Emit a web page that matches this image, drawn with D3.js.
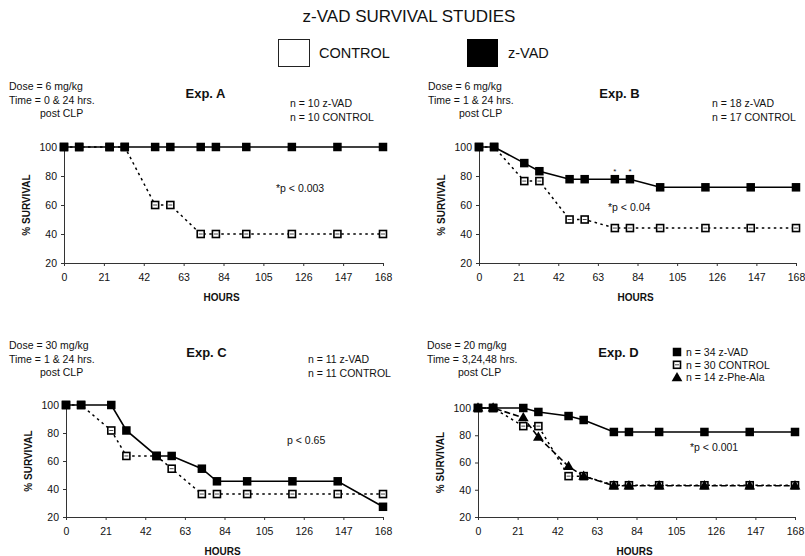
<!DOCTYPE html>
<html>
<head>
<meta charset="utf-8">
<script src="https://cdn.jsdelivr.net/npm/d3@7"></script>
<style>
  body { margin: 0; background: #fff; }
  svg text { font-family: "Liberation Sans", Arial, sans-serif; fill: #111; }
</style>
</head>
<body>
<div id="screen"></div>
<script>
// time points (hours post CLP)
var hours = [0, 8, 24, 32, 48, 56, 72, 80, 96, 120, 144, 168];
var xTickValues = [0, 21, 42, 63, 84, 105, 126, 147, 168];
var yTickValues = [20, 40, 60, 80, 100];

// % survival
var expAZvad    = [100, 100, 100, 100, 100, 100, 100, 100, 100, 100, 100, 100];
var expAControl = [100, 100, 100, 100, 60, 60, 40, 40, 40, 40, 40, 40];
var expBZvad    = [100, 100, 88.9, 83.3, 77.8, 77.8, 77.8, 77.8, 72.2, 72.2, 72.2, 72.2];
var expBControl = [100, 100, 76.5, 76.5, 50, 50, 44.1, 44.1, 44.1, 44.1, 44.1, 44.1];
var expCZvad    = [100, 100, 100, 81.8, 63.6, 63.6, 54.5, 45.5, 45.5, 45.5, 45.5, 27.3];
var expCControl = [100, 100, 81.8, 63.6, 63.6, 54.5, 36.4, 36.4, 36.4, 36.4, 36.4, 36.4];
var expDZvad    = [100, 100, 100, 97.1, 94.1, 91.2, 82.4, 82.4, 82.4, 82.4, 82.4, 82.4];
var expDControl = [100, 100, 86.7, 86.7, 50, 50, 43.3, 43.3, 43.3, 43.3, 43.3, 43.3];
var expDPheAla  = [100, 100, 92.9, 78.6, 57.1, 50, 42.9, 42.9, 42.9, 42.9, 42.9, 42.9];

var chartTitle = "z-VAD SURVIVAL STUDIES";
var legendLabels = ["CONTROL", "z-VAD"];
var panelTitles = ["Exp. A", "Exp. B", "Exp. C", "Exp. D"];
var doseLines = ["Dose = 6 mg/kg", "Dose = 6 mg/kg", "Dose = 30 mg/kg", "Dose = 20 mg/kg"];
var timeLines = ["Time = 0 & 24 hrs.", "Time = 1 & 24 hrs.", "Time = 1 & 24 hrs.", "Time = 3,24,48 hrs."];
var nZvad = ["n = 10 z-VAD", "n = 18 z-VAD", "n = 11 z-VAD", "n = 34 z-VAD"];
var nControl = ["n = 10 CONTROL", "n = 17 CONTROL", "n = 11 CONTROL", "n = 30 CONTROL"];
var nPheAla = "n = 14 z-Phe-Ala";
var pLabels = ["*p < 0.003", "*p < 0.04", "p < 0.65", "*p < 0.001"];
var starHours = [72, 80]; // asterisks above z-VAD points in Exp. B

var width = 805, height = 556;
var svg = d3.select("#screen").append("svg").attr("width", width).attr("height", height);

// header
svg.append("text").attr("x", 409).attr("y", 22).attr("text-anchor", "middle")
    .style("font-size", "17px").text(chartTitle);
svg.append("rect").attr("x", 278.5).attr("y", 39.5).attr("width", 31).attr("height", 27)
    .attr("fill", "#fff").attr("stroke", "#222").attr("stroke-width", 1);
svg.append("text").attr("x", 319).attr("y", 58).style("font-size", "14.5px").text(legendLabels[0]);
svg.append("rect").attr("x", 467).attr("y", 39).attr("width", 31).attr("height", 28).attr("fill", "#000");
svg.append("text").attr("x", 508).attr("y", 58).style("font-size", "14.5px").text(legendLabels[1]);

var panels = [
    {x0: 64, x1: 383, top: 147, bot: 263, tx: 9, ty: 90, nx: 290, ny: 107, px: 276, py: 192,
     series: [{v: expAControl, kind: "control"}, {v: expAZvad, kind: "zvad"}]},
    {x0: 479, x1: 796, top: 147, bot: 263, tx: 428, ty: 90, nx: 712, ny: 107, px: 608, py: 211,
     series: [{v: expBControl, kind: "control"}, {v: expBZvad, kind: "zvad"}]},
    {x0: 66, x1: 383, top: 405, bot: 517, tx: 9, ty: 349, nx: 308, ny: 363, px: 287, py: 444,
     series: [{v: expCControl, kind: "control"}, {v: expCZvad, kind: "zvad"}]},
    {x0: 478, x1: 795, top: 408, bot: 517, tx: 427, ty: 349, nx: null, ny: null, px: 690, py: 451,
     series: [{v: expDControl, kind: "control"}, {v: expDPheAla, kind: "phe"}, {v: expDZvad, kind: "zvad"}]}
];

var styles = {
    zvad: {dash: null, width: 1.6},
    control: {dash: "2.5,3.5", width: 1.5},
    phe: {dash: "6,3", width: 1.6}
};

function drawMarker(g, kind, x, y) {
    if (kind === "zvad") {
        g.append("rect").attr("x", x - 4.25).attr("y", y - 4.25).attr("width", 8.5).attr("height", 8.5).attr("fill", "#000");
    } else if (kind === "control") {
        g.append("rect").attr("x", x - 3.5).attr("y", y - 3.5).attr("width", 7).attr("height", 7)
            .attr("fill", "#fff").attr("stroke", "#000").attr("stroke-width", 1.6);
        g.append("line").attr("x1", x - 2).attr("x2", x + 2).attr("y1", y).attr("y2", y)
            .attr("stroke", "#444").attr("stroke-width", 1);
    } else {
        g.append("path").attr("d", d3.symbol(d3.symbolTriangle, 50)())
            .attr("transform", "translate(" + x + "," + (y + 0.5) + ")").attr("fill", "#000");
    }
}

panels.forEach(function(p, i) {
    var g = svg.append("g");
    var x = d3.scaleLinear().domain([0, 168]).range([p.x0, p.x1]);
    var y = d3.scaleLinear().domain([20, 100]).range([p.bot, p.top]);

    // annotation text
    g.append("text").attr("x", p.tx).attr("y", p.ty).style("font-size", "10.5px").text(doseLines[i]);
    g.append("text").attr("x", p.tx).attr("y", p.ty + 13.5).style("font-size", "10.5px").text(timeLines[i]);
    g.append("text").attr("x", p.tx + 31).attr("y", p.ty + 27).style("font-size", "10.5px").text("post CLP");
    g.append("text").attr("x", (p.x0 + p.x1) / 2 - 18).attr("y", p.ty + 8)
        .attr("text-anchor", "middle").style("font-size", "13px").style("font-weight", "bold").text(panelTitles[i]);
    if (p.nx !== null) {
        g.append("text").attr("x", p.nx).attr("y", p.ny).style("font-size", "10.5px").text(nZvad[i]);
        g.append("text").attr("x", p.nx).attr("y", p.ny + 14).style("font-size", "10.5px").text(nControl[i]);
    }
    g.append("text").attr("x", p.px).attr("y", p.py).style("font-size", "10.5px").text(pLabels[i]);

    // axes
    var yAxis = g.append("g").attr("transform", "translate(" + p.x0 + ",0)")
        .call(d3.axisLeft(y).tickValues(yTickValues).tickSize(3).tickSizeOuter(0).tickPadding(4));
    var xAxis = g.append("g").attr("transform", "translate(0," + p.bot + ")")
        .call(d3.axisBottom(x).tickValues(xTickValues).tickSize(3).tickSizeOuter(0).tickPadding(8));
    [yAxis, xAxis].forEach(function(a) {
        a.select(".domain").attr("stroke", "#333");
        a.selectAll(".tick line").attr("stroke", "#333");
        a.selectAll(".tick text").style("font-size", "10.5px").attr("fill", "#111")
            .style("font-family", "'Liberation Sans', Arial, sans-serif");
    });

    g.append("text").attr("transform", "translate(" + (p.x0 - 34) + "," + ((p.top + p.bot) / 2) + ") rotate(-90)")
        .attr("text-anchor", "middle").style("font-size", "10px").style("font-weight", "bold").text("% SURVIVAL");
    g.append("text").attr("x", (p.x0 + p.x1) / 2 - 2).attr("y", p.bot + 38)
        .attr("text-anchor", "middle").style("font-size", "10px").style("font-weight", "bold").text("HOURS");

    // lines then markers
    var line = d3.line().x(function(d, j) { return x(hours[j]); }).y(function(d) { return y(d); });
    p.series.forEach(function(s) {
        g.append("path").datum(s.v).attr("d", line).attr("fill", "none")
            .attr("stroke", "#000").attr("stroke-width", styles[s.kind].width)
            .attr("stroke-dasharray", styles[s.kind].dash);
    });
    p.series.forEach(function(s) {
        s.v.forEach(function(d, j) { drawMarker(g, s.kind, x(hours[j]), y(d)); });
    });

    if (i === 1) {
        starHours.forEach(function(h) {
            var j = hours.indexOf(h);
            g.append("text").attr("x", x(h)).attr("y", y(expBZvad[j]) - 5).attr("text-anchor", "middle")
                .style("font-size", "8px").text("*");
        });
    }
    if (i === 3) {
        var lg = [{kind: "zvad", t: nZvad[3]}, {kind: "control", t: nControl[3]}, {kind: "phe", t: nPheAla}];
        lg.forEach(function(l, k) {
            var ly = 352 + k * 12.8;
            drawMarker(g, l.kind, 677, ly);
            g.append("text").attr("x", 686).attr("y", ly + 3.8).style("font-size", "10.5px").text(l.t);
        });
    }
});
</script>
</body>
</html>
